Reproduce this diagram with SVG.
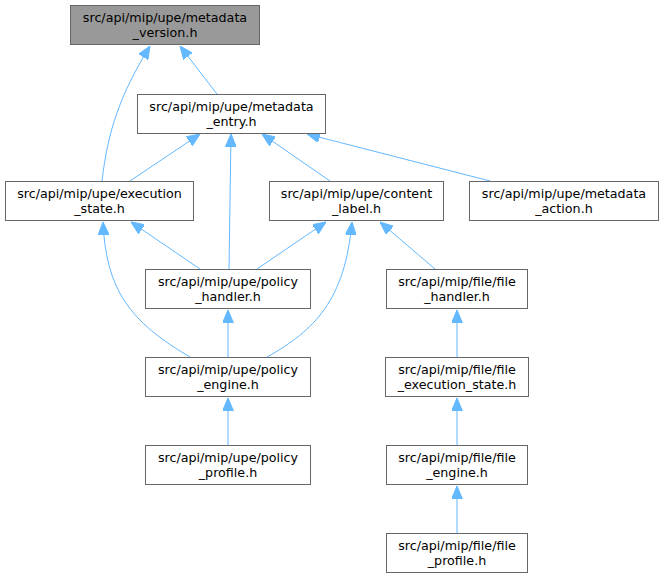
<svg xmlns="http://www.w3.org/2000/svg" width="664" height="579" viewBox="0 0 664 579">
<defs>
<style>
.node rect{fill:#ffffff;stroke:#666666;stroke-width:1}
#n_version rect{fill:#999999}
.node text{font-family:"DejaVu Sans",sans-serif;font-size:12.7px;fill:#000000;text-anchor:middle}
.edges path{fill:none;stroke:#63b8ff;stroke-width:1;marker-end:url(#arr)}
</style>
<marker id="arr" viewBox="0 0 13 11" refX="13" refY="5.5" markerUnits="userSpaceOnUse" markerWidth="13" markerHeight="11" orient="auto">
<path d="M0,0 L13,5.5 L0,11 z" fill="#63b8ff" stroke="#63b8ff" stroke-width="1"/>
</marker>
</defs>
<rect width="664" height="579" fill="#ffffff"/>
<g class="edges">
<path d="M217,94 L180,46"/>
<path d="M102,181 C108,130 120,95 150,46"/>
<path d="M130,181 L200,134"/>
<path d="M229,269 L231,134"/>
<path d="M330,181 L262,134"/>
<path d="M490,181 L307,134"/>
<path d="M200,269 L131,222"/>
<path d="M190,357 C130,322 106,290 103,222"/>
<path d="M257,269 L326,222"/>
<path d="M267,357 C315,330 345,300 352,222"/>
<path d="M435,269 L380,222"/>
<path d="M228,357 L228,310"/>
<path d="M228,445 L228,398"/>
<path d="M457,357 L457,310"/>
<path d="M457,445 L457,398"/>
<path d="M457,533 L457,486"/>
</g>
<g id="n_version" class="node"><rect x="70.5" y="5.5" width="189" height="39"/><text x="165" y="21.5">src/api/mip/upe/metadata</text><text x="165" y="36.5">_version.h</text></g>
<g id="n_entry" class="node"><rect x="137.5" y="94.5" width="188" height="39"/><text x="231.5" y="110.5">src/api/mip/upe/metadata</text><text x="231.5" y="125.5">_entry.h</text></g>
<g id="n_exec_state" class="node"><rect x="5.5" y="181.5" width="188" height="39"/><text x="99.5" y="197.5">src/api/mip/upe/execution</text><text x="99.5" y="212.5">_state.h</text></g>
<g id="n_content_label" class="node"><rect x="269.5" y="181.5" width="174" height="39"/><text x="356.5" y="197.5">src/api/mip/upe/content</text><text x="356.5" y="212.5">_label.h</text></g>
<g id="n_metadata_action" class="node"><rect x="469.5" y="181.5" width="189" height="39"/><text x="564" y="197.5">src/api/mip/upe/metadata</text><text x="564" y="212.5">_action.h</text></g>
<g id="n_policy_handler" class="node"><rect x="145.5" y="269.5" width="165" height="39"/><text x="228" y="285.5">src/api/mip/upe/policy</text><text x="228" y="300.5">_handler.h</text></g>
<g id="n_file_handler" class="node"><rect x="386.5" y="269.5" width="141" height="39"/><text x="457" y="285.5">src/api/mip/file/file</text><text x="457" y="300.5">_handler.h</text></g>
<g id="n_policy_engine" class="node"><rect x="145.5" y="357.5" width="165" height="39"/><text x="228" y="373.5">src/api/mip/upe/policy</text><text x="228" y="388.5">_engine.h</text></g>
<g id="n_file_exec_state" class="node"><rect x="385.5" y="357.5" width="143" height="39"/><text x="457" y="373.5">src/api/mip/file/file</text><text x="457" y="388.5">_execution_state.h</text></g>
<g id="n_policy_profile" class="node"><rect x="145.5" y="445.5" width="165" height="39"/><text x="228" y="461.5">src/api/mip/upe/policy</text><text x="228" y="476.5">_profile.h</text></g>
<g id="n_file_engine" class="node"><rect x="386.5" y="445.5" width="141" height="39"/><text x="457" y="461.5">src/api/mip/file/file</text><text x="457" y="476.5">_engine.h</text></g>
<g id="n_file_profile" class="node"><rect x="386.5" y="533.5" width="141" height="39"/><text x="457" y="549.5">src/api/mip/file/file</text><text x="457" y="564.5">_profile.h</text></g>
</svg>
